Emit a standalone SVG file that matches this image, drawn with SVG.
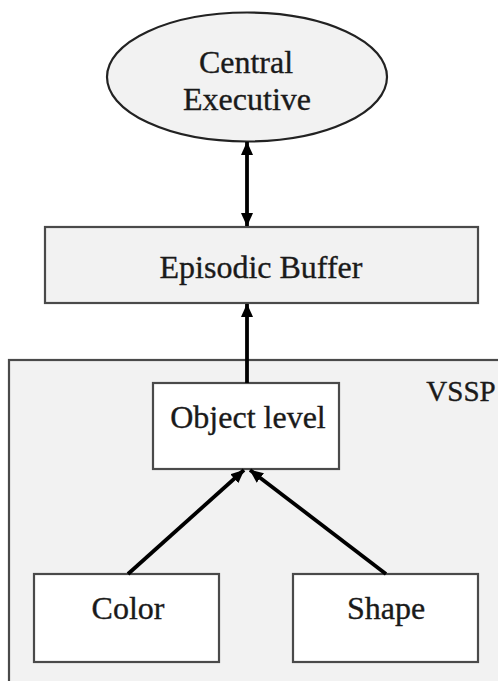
<svg xmlns="http://www.w3.org/2000/svg" width="498" height="681" viewBox="0 0 498 681">
<style>
.t{font-family:"Liberation Serif","Times New Roman",serif;font-size:32px;fill:#1a1a1a;stroke:#1a1a1a;stroke-width:0.35;text-anchor:middle}
.box{fill:#f2f2f2;stroke:#4a4a4a;stroke-width:2.2}
.wbox{fill:#ffffff;stroke:#4a4a4a;stroke-width:2.2}
.arr{stroke:#000;stroke-width:3.8;fill:none}
</style>
<defs>
<marker id="ah" markerUnits="userSpaceOnUse" markerWidth="14" markerHeight="14" viewBox="0 0 14 14" refX="13" refY="7" orient="auto-start-reverse">
<path d="M0,1 L13.5,7 L0,13 Z" fill="#000"/>
</marker>
</defs>
<rect width="498" height="681" fill="#ffffff"/>
<g id="vssp">
<rect class="box" x="9" y="360" width="500" height="340"/>
<text class="t" x="461" y="401" style="font-size:29px">VSSP</text>
</g>
<g id="central-executive">
<ellipse cx="247" cy="77" rx="140" ry="64.5" fill="#f2f2f2" stroke="#222" stroke-width="2.2"/>
<text class="t" x="246" y="73">Central</text>
<text class="t" x="247" y="110">Executive</text>
</g>
<g id="episodic-buffer">
<rect class="box" x="45" y="227" width="433" height="76"/>
<text class="t" x="261" y="278">Episodic Buffer</text>
</g>
<g id="object-level">
<rect class="wbox" x="153" y="383" width="186" height="86"/>
<text class="t" x="248" y="428">Object level</text>
</g>
<g id="color">
<rect class="wbox" x="34" y="574" width="185" height="88"/>
<text class="t" x="128" y="619">Color</text>
</g>
<g id="shape">
<rect class="wbox" x="293" y="574" width="185" height="88"/>
<text class="t" x="386" y="619">Shape</text>
</g>
<g id="connectors">
<line class="arr" x1="247" y1="142" x2="247" y2="226" marker-start="url(#ah)" marker-end="url(#ah)"/>
<line class="arr" x1="247" y1="383" x2="247" y2="304" marker-end="url(#ah)"/>
<line class="arr" x1="128" y1="574" x2="244" y2="470" marker-end="url(#ah)"/>
<line class="arr" x1="386" y1="574" x2="250" y2="470" marker-end="url(#ah)"/>
</g>
</svg>
